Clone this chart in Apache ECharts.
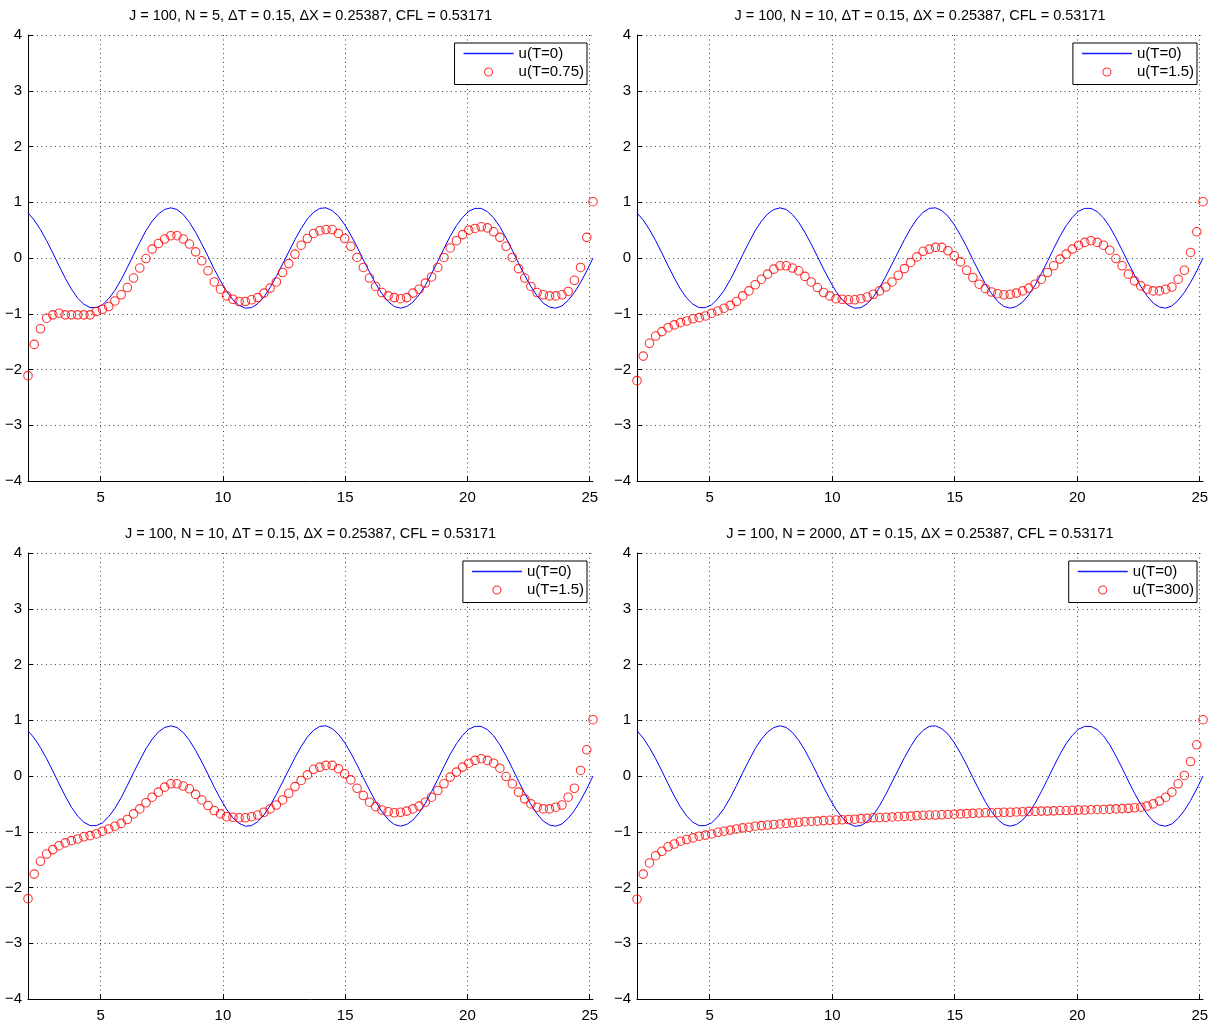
<!DOCTYPE html>
<html>
<head>
<meta charset="utf-8">
<title>u(T) panels</title>
<script src="https://cdn.jsdelivr.net/npm/echarts@6/dist/echarts.min.js"></script>
<style>
  html, body { margin: 0; padding: 0; background: #fff; }
  #main { width: 1225px; height: 1026px; }
</style>
</head>
<body>
<div id="main"></div>
<script>
// grid points x_j (spacing dX = 0.25387), visible part of the domain
var X = [
  2.031, 2.285, 2.539, 2.793, 3.046, 3.300, 3.554, 3.808, 4.062, 4.316,
  4.570, 4.823, 5.077, 5.331, 5.585, 5.839, 6.093, 6.347, 6.601, 6.854,
  7.108, 7.362, 7.616, 7.870, 8.124, 8.378, 8.631, 8.885, 9.139, 9.393,
  9.647, 9.901, 10.155, 10.409, 10.662, 10.916, 11.170, 11.424, 11.678, 11.932,
  12.186, 12.439, 12.693, 12.947, 13.201, 13.455, 13.709, 13.963, 14.217, 14.470,
  14.724, 14.978, 15.232, 15.486, 15.740, 15.994, 16.247, 16.501, 16.755, 17.009,
  17.263, 17.517, 17.771, 18.024, 18.278, 18.532, 18.786, 19.040, 19.294, 19.548,
  19.801, 20.055, 20.309, 20.563, 20.817, 21.071, 21.325, 21.579, 21.832, 22.086,
  22.340, 22.594, 22.848, 23.102, 23.356, 23.609, 23.863, 24.117, 24.371, 24.625,
  24.879, 25.133
];

// u(T=0), blue line (same in every panel)
var U0 = [
  0.81, 0.68, 0.51, 0.31, 0.09, -0.14, -0.36, -0.56, -0.72, -0.83,
  -0.89, -0.89, -0.84, -0.73, -0.58, -0.39, -0.17, 0.06, 0.28, 0.49,
  0.66, 0.79, 0.87, 0.90, 0.87, 0.78, 0.64, 0.46, 0.25, 0.03,
  -0.20, -0.41, -0.60, -0.75, -0.85, -0.90, -0.89, -0.82, -0.70, -0.53,
  -0.33, -0.11, 0.11, 0.33, 0.53, 0.70, 0.82, 0.89, 0.90, 0.85,
  0.75, 0.60, 0.41, 0.20, -0.03, -0.25, -0.46, -0.64, -0.78, -0.87,
  -0.90, -0.87, -0.79, -0.66, -0.49, -0.28, -0.06, 0.17, 0.39, 0.58,
  0.73, 0.84, 0.89, 0.89, 0.83, 0.72, 0.56, 0.36, 0.14, -0.09,
  -0.31, -0.51, -0.68, -0.81, -0.88, -0.90, -0.86, -0.76, -0.62, -0.44,
  -0.23, 0.00
];

// N = 5, T = 0.75
var U_N5 = [
  -2.11, -1.55, -1.27, -1.08, -1.02, -0.99, -1.02, -1.02, -1.02, -1.02,
  -1.02, -0.96, -0.92, -0.87, -0.77, -0.66, -0.53, -0.36, -0.18, -0.01,
  0.16, 0.26, 0.34, 0.40, 0.40, 0.34, 0.25, 0.11, -0.05, -0.23,
  -0.43, -0.56, -0.68, -0.74, -0.78, -0.78, -0.75, -0.71, -0.63, -0.54,
  -0.43, -0.26, -0.10, 0.07, 0.23, 0.35, 0.44, 0.49, 0.51, 0.51,
  0.44, 0.35, 0.21, 0.01, -0.17, -0.36, -0.51, -0.62, -0.68, -0.71,
  -0.73, -0.71, -0.63, -0.56, -0.45, -0.34, -0.17, 0.01, 0.18, 0.31,
  0.42, 0.50, 0.53, 0.56, 0.54, 0.47, 0.37, 0.21, 0.01, -0.19,
  -0.36, -0.51, -0.62, -0.66, -0.68, -0.68, -0.66, -0.60, -0.40, -0.17,
  0.37, 1.01
];

// N = 10, T = 1.5
var U_N10 = [
  -2.20, -1.76, -1.53, -1.40, -1.32, -1.25, -1.20, -1.16, -1.13, -1.09,
  -1.07, -1.04, -0.99, -0.95, -0.90, -0.85, -0.78, -0.68, -0.59, -0.48,
  -0.38, -0.29, -0.20, -0.14, -0.14, -0.18, -0.23, -0.33, -0.43, -0.53,
  -0.62, -0.68, -0.73, -0.74, -0.75, -0.75, -0.73, -0.70, -0.65, -0.59,
  -0.52, -0.43, -0.31, -0.19, -0.08, 0.02, 0.12, 0.16, 0.19, 0.19,
  0.13, 0.04, -0.07, -0.22, -0.35, -0.47, -0.55, -0.61, -0.64, -0.66,
  -0.65, -0.63, -0.59, -0.54, -0.47, -0.38, -0.26, -0.14, -0.02, 0.07,
  0.16, 0.23, 0.28, 0.31, 0.28, 0.23, 0.14, -0.01, -0.14, -0.29,
  -0.41, -0.50, -0.56, -0.59, -0.59, -0.56, -0.52, -0.38, -0.22, 0.10,
  0.47, 1.01
];

// N = 2000, T = 300
var U_N2000 = [
  -2.21, -1.76, -1.56, -1.43, -1.35, -1.27, -1.22, -1.17, -1.14, -1.11,
  -1.08, -1.06, -1.04, -1.01, -0.99, -0.97, -0.95, -0.93, -0.92, -0.90,
  -0.89, -0.88, -0.87, -0.86, -0.85, -0.84, -0.83, -0.82, -0.815, -0.81,
  -0.80, -0.795, -0.79, -0.785, -0.78, -0.775, -0.765, -0.76, -0.75, -0.745,
  -0.74, -0.735, -0.73, -0.725, -0.72, -0.71, -0.705, -0.70, -0.70, -0.695,
  -0.69, -0.685, -0.68, -0.675, -0.67, -0.665, -0.66, -0.66, -0.655, -0.65,
  -0.65, -0.645, -0.64, -0.635, -0.635, -0.63, -0.63, -0.625, -0.62, -0.62,
  -0.615, -0.61, -0.61, -0.605, -0.60, -0.60, -0.595, -0.59, -0.585, -0.58,
  -0.57, -0.56, -0.54, -0.50, -0.45, -0.38, -0.29, -0.14, 0.01, 0.26,
  0.56, 1.01
];

var X_TICKS = [5, 10, 15, 20, 25];
var X_MIN = 2.031, X_MAX = 25.133;
var Y_MIN = -4, Y_MAX = 4, Y_STEP = 1;

var TITLES = [
  'J = 100, N = 5, \u0394T = 0.15, \u0394X = 0.25387, CFL = 0.53171',
  'J = 100, N = 10, \u0394T = 0.15, \u0394X = 0.25387, CFL = 0.53171',
  'J = 100, N = 10, \u0394T = 0.15, \u0394X = 0.25387, CFL = 0.53171',
  'J = 100, N = 2000, \u0394T = 0.15, \u0394X = 0.25387, CFL = 0.53171'
];
var LABELS = ['u(T=0.75)', 'u(T=1.5)', 'u(T=1.5)', 'u(T=300)'];
var SERIES_U = [U_N5, U_N10, U_N10, U_N2000];

// plot boxes (px)
var W_PAGE = 1225;
var boxes = [
  { left: 28, top: 35, width: 565, height: 446 },
  { left: 637, top: 35, width: 566, height: 446 },
  { left: 28, top: 553, width: 565, height: 446 },
  { left: 637, top: 553, width: 566, height: 446 }
];

var FONT = '"Liberation Sans", Arial, Helvetica, sans-serif';
var dotted = { color: '#444', width: 1, type: [1, 3.5] };
var hollowRed = { color: 'rgba(0,0,0,0)', borderColor: '#ff0000', borderWidth: 1.1 };
// thin bar used as the legend sample of the line (aspect kept)
var LINE_ICON = 'path://M0,0L50,0L50,1.5L0,1.5Z';

function pairs(u) {
  return X.map(function (x, i) { return [x, u[i]]; });
}
function minus(v) {
  return v < 0 ? '\u2212' + Math.abs(v) : String(v);
}

var grid = [], xAxis = [], yAxis = [], series = [], title = [], legend = [];

boxes.forEach(function (b, i) {
  grid.push({ left: b.left, top: b.top, width: b.width, height: b.height, outerBoundsMode: 'none' });

  xAxis.push({
    type: 'value', gridIndex: i, min: X_MIN, max: X_MAX,
    axisLine: { show: true, onZero: false, lineStyle: { color: '#000', width: 1 } },
    axisTick: { show: true, inside: true, length: 5, customValues: X_TICKS, lineStyle: { color: '#000' } },
    axisLabel: { customValues: X_TICKS, color: '#000', fontSize: 15, fontFamily: FONT, margin: 9 },
    splitLine: { show: true, lineStyle: dotted }
  });

  yAxis.push({
    type: 'value', gridIndex: i, min: Y_MIN, max: Y_MAX, interval: Y_STEP,
    axisLine: { show: true, onZero: false, lineStyle: { color: '#000', width: 1 } },
    axisTick: { show: true, inside: true, length: 5, lineStyle: { color: '#000' } },
    axisLabel: { color: '#000', fontSize: 15, fontFamily: FONT, margin: 6, formatter: minus },
    splitLine: { show: true, lineStyle: dotted }
  });

  series.push({
    name: 'u(T=0)', type: 'line', xAxisIndex: i, yAxisIndex: i,
    data: pairs(U0), symbol: 'none', smooth: false,
    lineStyle: { color: '#0000ff', width: 1 }, itemStyle: { color: '#0000ff' },
    silent: true, z: 2
  });
  series.push({
    name: LABELS[i], type: 'scatter', xAxisIndex: i, yAxisIndex: i,
    data: pairs(SERIES_U[i]), symbol: 'circle', symbolSize: 8.5,
    itemStyle: hollowRed,
    silent: true, z: 3
  });

  title.push({
    text: TITLES[i], left: b.left + b.width / 2, top: b.top - 27,
    textAlign: 'center', padding: 0,
    textStyle: { color: '#000', fontSize: 14.5, fontWeight: 'normal', fontFamily: FONT }
  });

  // legend box sits 6px inside the top right corner
  legend.push({
    orient: 'vertical', align: 'left',
    right: W_PAGE - (b.left + b.width - 6), top: b.top + 8,
    backgroundColor: '#fff', borderColor: '#000', borderWidth: 1,
    padding: [3, 3, 5, 9], itemGap: 3.5, itemWidth: 50, itemHeight: 8,
    selectedMode: false, symbolKeepAspect: true,
    textStyle: { color: '#000', fontSize: 15, fontFamily: FONT },
    data: [
      { name: 'u(T=0)', icon: LINE_ICON, itemStyle: { color: '#1a1aff', borderWidth: 0 } },
      { name: LABELS[i], icon: 'circle', itemStyle: hollowRed }
    ]
  });
});

var chart = echarts.init(document.getElementById('main'), null, { renderer: 'canvas' });
chart.setOption({
  animation: false,
  backgroundColor: '#fff',
  textStyle: { fontFamily: FONT },
  title: title,
  legend: legend,
  grid: grid,
  xAxis: xAxis,
  yAxis: yAxis,
  series: series
});
</script>
</body>
</html>
